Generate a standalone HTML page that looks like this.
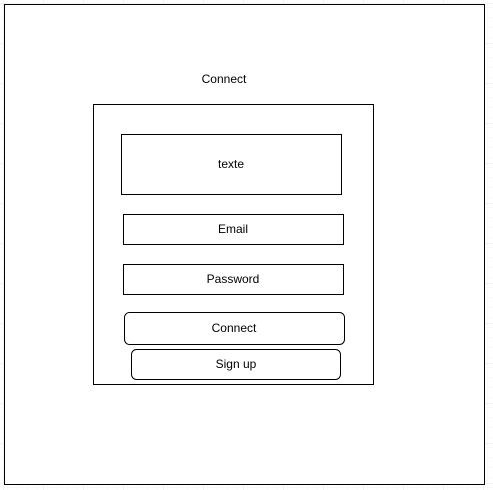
<!DOCTYPE html>
<html><head><style>
html,body{margin:0;padding:0;background:#fff;}
svg{display:block;}
text{font-family:"Liberation Sans",sans-serif;font-size:12px;fill:#000;}
</style></head><body>
<svg width="493" height="490" viewBox="0 0 493 490" xmlns="http://www.w3.org/2000/svg">
<defs>
<pattern id="minor" width="10" height="10" patternUnits="userSpaceOnUse" x="4" y="4">
<path d="M10 0V10M0 10H10" stroke="#f6f6f6" stroke-width="1" fill="none"/>
</pattern>
<pattern id="major" width="40" height="40" patternUnits="userSpaceOnUse" x="4" y="4">
<rect width="40" height="40" fill="url(#minor)"/>
<path d="M40 0V40M0 40H40" stroke="#e8e8e8" stroke-width="1" fill="none"/>
</pattern>
</defs>
<rect x="0" y="0" width="493" height="490" fill="url(#major)"/>
<g fill="#fff" stroke="#000" stroke-width="1">
<rect x="4.5" y="4.5" width="480" height="480"/>
<rect x="93.5" y="104.5" width="280" height="280"/>
<rect x="121.5" y="134.5" width="220" height="60"/>
<rect x="123.5" y="214.5" width="220" height="30"/>
<rect x="123.5" y="264.5" width="220" height="30"/>
<rect x="124.5" y="312.5" width="220" height="32" rx="5"/>
<rect x="131.5" y="349.5" width="209" height="30" rx="5"/>
</g>
<g text-anchor="middle">
<text x="224" y="83">Connect</text>
<text x="231" y="168">texte</text>
<text x="233" y="233">Email</text>
<text x="233" y="283">Password</text>
<text x="234" y="332">Connect</text>
<text x="236" y="368">Sign up</text>
</g>
</svg>
</body></html>
